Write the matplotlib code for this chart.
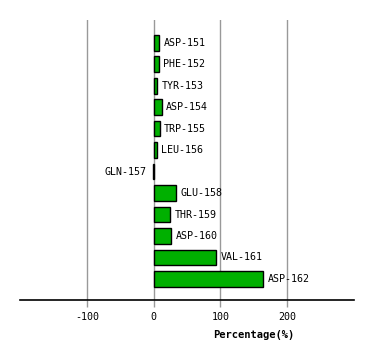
import numpy as np
import matplotlib
matplotlib.use("Agg")
import matplotlib.pyplot as plt

residues = ["ASP-151", "PHE-152", "TYR-153", "ASP-154", "TRP-155", "LEU-156",
            "GLN-157", "GLU-158", "THR-159", "ASP-160", "VAL-161", "ASP-162"]
percent = [8.5, 8.0, 5.5, 12.0, 9.0, 5.5, -1.0, 34.0, 25.0, 26.5, 94.0, 164.5]
ticks = [-100, 0, 100, 200]

W, H = 374, 360
fig = plt.figure(figsize=(W / 100, H / 100), dpi=100)
ax = fig.add_axes([20 / W, (H - 300) / H, 334 / W, 280 / H])

y = np.arange(len(residues))
ax.barh(y, percent, height=0.73, color="#00b000", edgecolor="black", linewidth=1.0, zorder=3)

for i, (name, v) in enumerate(zip(residues, percent)):
    if v >= 0:
        ax.annotate(name, (v, i), xytext=(3, 0), textcoords="offset points",
                    ha="left", va="center", fontsize=7.2, family="DejaVu Sans Mono")
    else:
        ax.annotate(name, (v, i), xytext=(-4.5, 0), textcoords="offset points",
                    ha="right", va="center", fontsize=7.2, family="DejaVu Sans Mono")

ax.set_xlim(-200, 300)
ax.set_ylim(11.98, -1.06)
for t in ticks:
    ax.axvline(t, color="#999999", linewidth=1.0, zorder=1)

for s in ["top", "left", "right"]:
    ax.spines[s].set_visible(False)
ax.spines["bottom"].set_linewidth(1.2)
ax.set_yticks([])
ax.set_xticks(ticks)
ax.set_xticklabels([str(t) for t in ticks], family="DejaVu Sans Mono", fontsize=7.2)
ax.tick_params(axis="x", length=5, width=1.0, color="#999999", pad=4)

fig.text(254 / W, 1 - 335 / H, "Percentage(%)", ha="center", va="center",
         fontsize=7.5, fontweight="bold", family="DejaVu Sans Mono")

fig.savefig("out.png", dpi=100)
